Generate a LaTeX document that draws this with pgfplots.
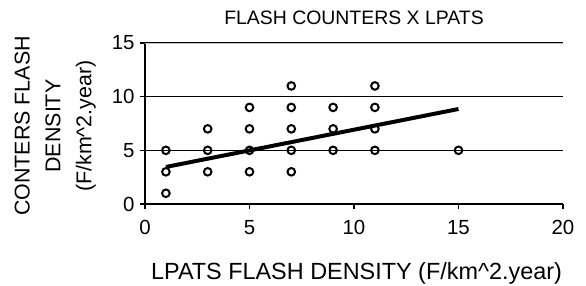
\documentclass[border=0pt]{standalone}
\usepackage{pgfplots}
\pgfplotsset{compat=1.18}
\usepackage{fontspec}
\setmainfont{Liberation Sans}
\begin{document}
\begin{tikzpicture}
\useasboundingbox (-145bp,-82bp) rectangle (441bp,204bp);
\begin{axis}[
  scale only axis,
  width=418bp, height=161bp,
  xmin=0, xmax=20, ymin=0, ymax=15,
  xtick={0,5,10,15,20}, ytick={0,5,10,15},
  axis x line*=bottom, axis y line*=left,
  axis line style={line width=1.3pt, -},
  tick style={black, line width=1.2pt},
  tick align=outside,
  major tick length=5bp,
  ymajorgrids,
  major grid style={black, line width=1.2pt},
  tick label style={font=\fontsize{20.5}{22}\selectfont},
  xticklabel style={yshift=-8bp},
  yticklabel style={xshift=-2bp},
  /pgf/number format/assume math mode=true,
  clip=false,
]
\draw[gray!50, line width=0.8pt] (axis cs:0,15) -- (axis cs:20,15);
\addplot[only marks, mark=o, mark size=3.8bp, mark options={line width=2pt, fill=white, draw=black}] coordinates {
(1,5) (1,3) (1,1)
(3,7) (3,5) (3,3)
(5,9) (5,7) (5,5) (5,3)
(7,11) (7,9) (7,7) (7,5) (7,3)
(9,9) (9,7) (9,5)
(11,11) (11,9) (11,7) (11,5)
(15,5)
};
\addplot[black, line width=4pt, no marks] coordinates {(1,3.45) (15,8.85)};
\node[font=\fontsize{19.5}{22}\selectfont] at (rel axis cs:0.5,1.158) {FLASH COUNTERS X LPATS};
\node[font=\fontsize{23.5}{26}\selectfont] at (rel axis cs:0.506,-0.43) {LPATS FLASH DENSITY (F/km\^{}2.year)};
\node[font=\fontsize{21.5}{31}\selectfont, align=center, rotate=90] at (rel axis cs:-0.215,0.484) {CONTERS FLASH\\DENSITY\\(F/km\^{}2.year)};
\end{axis}
\end{tikzpicture}
\end{document}
